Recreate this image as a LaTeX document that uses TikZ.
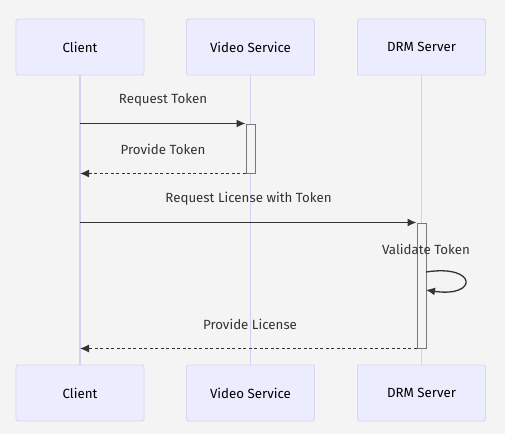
\documentclass[tikz,border=0pt]{standalone}
\usepackage{fontspec}
\setmainfont{Fira Sans}
\usetikzlibrary{arrows.meta}

\definecolor{bgcol}{HTML}{F4F4F4}
\definecolor{actorfill}{HTML}{ECECFF}
\definecolor{actorline}{HTML}{DCD4F4}
\definecolor{lifecol}{HTML}{D8CEF2}
\definecolor{msgcol}{HTML}{333333}
\definecolor{actline}{HTML}{777777}

\tikzset{
	actor/.style={rectangle, rounded corners=2pt, draw=actorline, fill=actorfill, line width=0.9pt,
		minimum width=128pt, minimum height=56pt, font=\fontsize{13.3}{15}\selectfont, text=black},
	lifeline/.style={draw=lifecol, line width=1.1pt},
	activation/.style={rectangle, draw=actline, fill=bgcol, line width=1pt, minimum width=9pt, inner sep=0pt},
	msg/.style={draw=msgcol, line width=1.3pt, -{Latex[length=9pt,width=8pt]}},
	reply/.style={msg, dash pattern=on 3pt off 2.5pt},
	msglabel/.style={font=\fontsize{13.3}{15}\selectfont, text=msgcol, inner sep=0pt}
}

\begin{document}
\begin{tikzpicture}[x=1pt,y=-1pt]
	\useasboundingbox[fill=bgcol] (0,0) rectangle (505,434);

	% Actors
	\node[actor] (client) at (80,47) {Client};
	\node[actor] (video) at (250.5,47) {Video Service};
	\node[actor] (drm) at (421.5,47) {DRM Server};
	\node[actor] (clientB) at (80,393) {Client};
	\node[actor] (videoB) at (250.5,393) {Video Service};
	\node[actor] (drmB) at (421.5,393) {DRM Server};

	% Lifelines
	\draw[lifeline] (client) -- (clientB);
	\draw[lifeline] (video) -- (videoB);
	\draw[lifeline] (drm) -- (drmB);

	% Activations
	\node[activation, minimum height=49pt] (actV) at (250.5,148.5) {};
	\node[activation, minimum height=125pt] (actD) at (421.5,285.5) {};

	% Messages
	\draw[msg] (client |- actV.north west) -- (actV.north west);
	\draw[reply] (actV.south west) -- (client |- actV.south west);
	\draw[msg] (client |- actD.north west) -- (actD.north west);
	\draw[reply] (actD.south west) -- (client |- actD.south west);

	% Self call
	\coordinate (selfA) at (426,272);
	\coordinate (selfB) at (426,290);
	\draw[msg] (selfA) .. controls (478,264) and (478,298) .. (selfB);

	% Labels
	\node[msglabel] (lab1) at (163,100) {Request Token};
	\node[msglabel] (lab2) at (163,149) {Provide Token};
	\node[msglabel] (lab3) at (248.5,199) {Request License with Token};
	\node[msglabel] (lab4) at (426,249) {Validate Token};
	\node[msglabel] (lab5) at (250,324) {Provide License};
\end{tikzpicture}
\end{document}
